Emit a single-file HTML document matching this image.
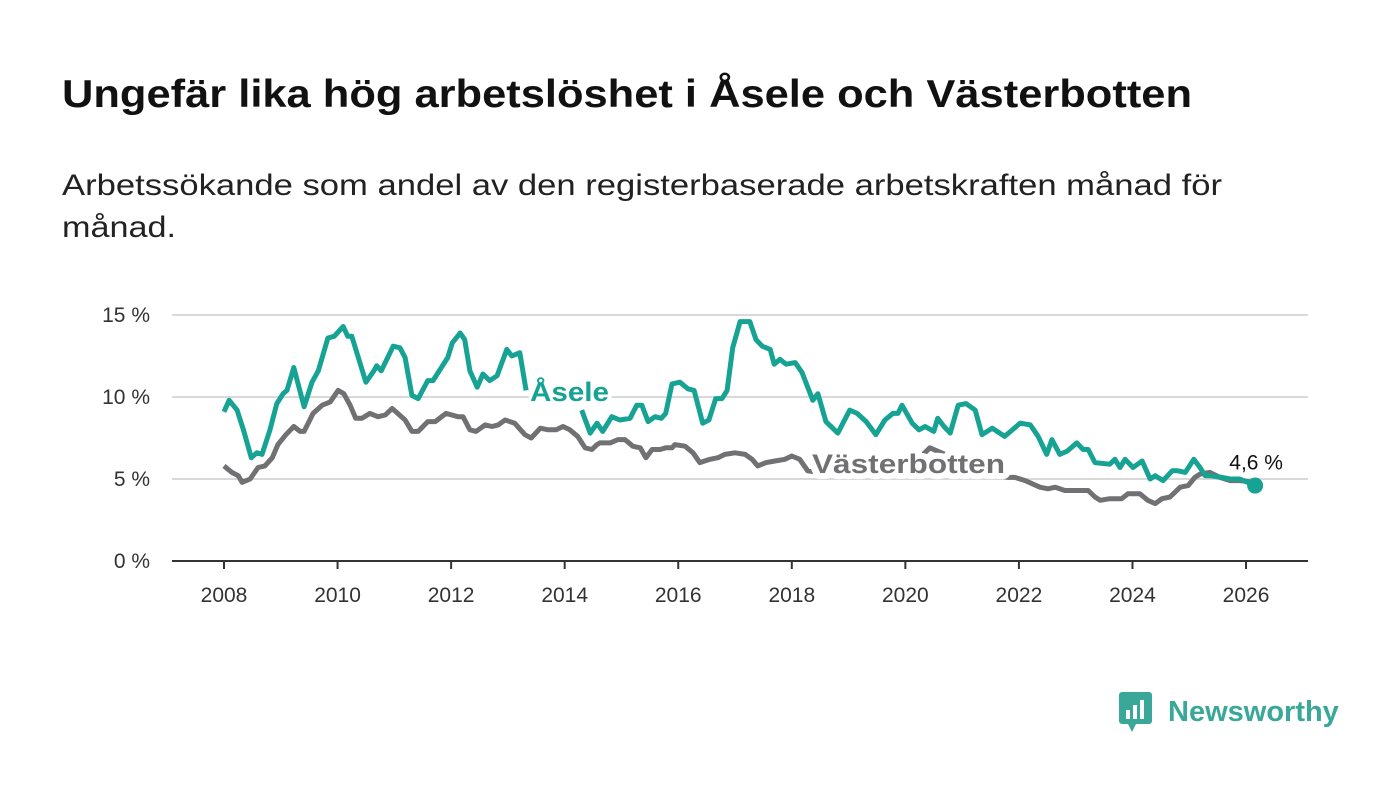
<!DOCTYPE html>
<html><head><meta charset="utf-8">
<style>
body{margin:0;background:#fff;width:1400px;height:794px;overflow:hidden;font-family:"Liberation Sans",sans-serif;}
svg{position:absolute;left:0;top:0}
</style></head><body>
<svg id="chart" width="1400" height="794">
<text x="62" y="107" font-size="39" font-weight="bold" fill="#111" textLength="1130" lengthAdjust="spacingAndGlyphs">Ungefär lika hög arbetslöshet i Åsele och Västerbotten</text>
<text x="62" y="195" font-size="30" fill="#222" textLength="1160" lengthAdjust="spacingAndGlyphs">Arbetssökande som andel av den registerbaserade arbetskraften månad för</text>
<text x="62" y="237" font-size="30" fill="#222" textLength="114" lengthAdjust="spacingAndGlyphs">månad.</text>
</svg>
<div style="position:absolute;left:1118px;top:690px;height:44px;display:flex;align-items:center">
<svg width="36" height="44" style="position:static"><rect x="1" y="2" width="33" height="32" rx="3" fill="#3aa899"/><path d="M10 34 L14 42 L18 34Z" fill="#3aa899"/><rect x="8" y="20" width="4" height="9" fill="#fff"/><rect x="15" y="15" width="4" height="14" fill="#fff"/><rect x="22" y="10" width="4" height="19" fill="#fff"/></svg>
<span style="font-size:29px;font-weight:bold;color:#3aa899;margin-left:14px">Newsworthy</span></div>
<script>
const yTicks=[0,5,10,15];
const xTicks=[2008,2010,2012,2014,2016,2018,2020,2022,2024,2026];
const aseleDates=[2008.00,2008.09,2008.23,2008.35,2008.48,2008.58,2008.67,2008.81,2008.93,2009.04,2009.11,2009.23,2009.41,2009.55,2009.66,2009.83,2009.94,2010.10,2010.18,2010.25,2010.50,2010.64,2010.69,2010.77,2010.98,2011.10,2011.19,2011.31,2011.42,2011.59,2011.68,2011.94,2012.02,2012.16,2012.24,2012.33,2012.46,2012.56,2012.68,2012.81,2012.98,2013.07,2013.21,2013.32,2014.30,2014.45,2014.57,2014.67,2014.83,2014.97,2015.15,2015.27,2015.36,2015.47,2015.59,2015.70,2015.78,2015.89,2016.03,2016.17,2016.28,2016.43,2016.54,2016.66,2016.77,2016.86,2016.96,2017.09,2017.26,2017.37,2017.48,2017.62,2017.69,2017.79,2017.90,2018.06,2018.18,2018.37,2018.46,2018.60,2018.81,2019.02,2019.15,2019.31,2019.48,2019.64,2019.78,2019.87,2019.94,2020.12,2020.24,2020.35,2020.50,2020.57,2020.68,2020.79,2020.93,2021.07,2021.23,2021.35,2021.53,2021.75,2022.02,2022.20,2022.34,2022.49,2022.58,2022.72,2022.85,2023.02,2023.13,2023.22,2023.34,2023.60,2023.69,2023.78,2023.87,2024.01,2024.17,2024.31,2024.40,2024.54,2024.70,2024.80,2024.93,2025.08,2025.19,2025.28,2025.36,2025.58,2025.72,2025.89,2026.16];
const aseleValues=[9.1,9.8,9.2,7.9,6.3,6.6,6.5,8.0,9.6,10.2,10.4,11.8,9.4,10.9,11.6,13.6,13.7,14.3,13.7,13.7,10.9,11.6,11.9,11.6,13.1,13.0,12.4,10.1,9.9,11.0,11.0,12.4,13.3,13.9,13.5,11.6,10.6,11.4,11.0,11.3,12.9,12.5,12.7,10.4,9.2,7.8,8.4,7.9,8.8,8.6,8.7,9.5,9.5,8.5,8.8,8.7,9.0,10.8,10.9,10.5,10.4,8.4,8.6,9.9,9.9,10.4,13.0,14.6,14.6,13.5,13.1,12.9,12.0,12.3,12.0,12.1,11.5,9.8,10.2,8.5,7.8,9.2,9.0,8.5,7.7,8.6,9.0,9.0,9.5,8.4,8.0,8.2,7.9,8.7,8.2,7.8,9.5,9.6,9.2,7.7,8.1,7.6,8.4,8.3,7.6,6.5,7.4,6.5,6.7,7.2,6.8,6.8,6.0,5.9,6.2,5.7,6.2,5.7,6.1,5.0,5.2,4.9,5.5,5.5,5.4,6.2,5.7,5.2,5.2,5.1,5.0,5.0,4.6];
const aseleGapAfter=2013.32;
const vbDates=[2008.00,2008.14,2008.25,2008.32,2008.46,2008.60,2008.72,2008.85,2008.95,2009.09,2009.23,2009.34,2009.41,2009.57,2009.73,2009.87,2010.01,2010.11,2010.22,2010.32,2010.43,2010.57,2010.71,2010.84,2010.96,2011.06,2011.19,2011.31,2011.42,2011.59,2011.72,2011.91,2012.12,2012.21,2012.33,2012.44,2012.60,2012.72,2012.83,2012.95,2013.12,2013.30,2013.41,2013.57,2013.71,2013.85,2013.97,2014.09,2014.23,2014.36,2014.48,2014.57,2014.62,2014.80,2014.94,2015.06,2015.20,2015.33,2015.43,2015.54,2015.68,2015.78,2015.89,2015.94,2016.12,2016.26,2016.38,2016.56,2016.70,2016.82,2017.00,2017.18,2017.30,2017.40,2017.55,2017.70,2017.88,2018.00,2018.14,2018.28,2018.67,2019.20,2019.73,2020.17,2020.43,2020.70,2021.14,2021.49,2021.81,2021.93,2022.11,2022.37,2022.51,2022.64,2022.81,2022.99,2023.22,2023.34,2023.43,2023.60,2023.81,2023.92,2024.13,2024.27,2024.40,2024.52,2024.66,2024.84,2024.98,2025.10,2025.19,2025.36,2025.54,2025.72,2025.89,2026.16];
const vbValues=[5.8,5.4,5.2,4.8,5.0,5.7,5.8,6.3,7.1,7.7,8.2,7.9,7.9,9.0,9.5,9.7,10.4,10.2,9.5,8.7,8.7,9.0,8.8,8.9,9.3,9.0,8.6,7.9,7.9,8.5,8.5,9.0,8.8,8.8,8.0,7.9,8.3,8.2,8.3,8.6,8.4,7.7,7.5,8.1,8.0,8.0,8.2,8.0,7.6,6.9,6.8,7.1,7.2,7.2,7.4,7.4,7.0,6.9,6.3,6.8,6.8,6.9,6.9,7.1,7.0,6.6,6.0,6.2,6.3,6.5,6.6,6.5,6.2,5.8,6.0,6.1,6.2,6.4,6.2,5.5,5.3,5.5,5.6,6.0,6.9,6.5,5.6,5.3,5.1,5.1,4.9,4.5,4.4,4.5,4.3,4.3,4.3,3.9,3.7,3.8,3.8,4.1,4.1,3.7,3.5,3.8,3.9,4.5,4.6,5.1,5.3,5.4,5.1,4.9,4.9,4.8];
const NS="http://www.w3.org/2000/svg";
const svg=document.getElementById('chart');
const X=y=>224+(y-2008)*56.78;
const Y=v=>561-v*16.4;
function mk(t,a,p){const e=document.createElementNS(NS,t);for(const k in a)e.setAttribute(k,a[k]);(p||svg).appendChild(e);return e;}
yTicks.forEach(t=>{
 if(t>0){const g=mk('line',{x1:172,x2:1308,y1:Y(t),y2:Y(t),stroke:'#d9d9d9','stroke-width':2});
 
 }
 const l=mk('text',{x:150,y:Y(t)+7,'text-anchor':'end','font-size':21,fill:'#333','font-family':'Liberation Sans'});l.textContent=t+' %';
 
 
});
const ax=mk('line',{x1:172,x2:1308,y1:561,y2:561,stroke:'#333','stroke-width':2});


xTicks.forEach(t=>{
 const tk=mk('line',{x1:X(t),x2:X(t),y1:561,y2:569,stroke:'#333','stroke-width':2});
 
 
 const l=mk('text',{x:X(t),y:602,'text-anchor':'middle','font-size':21,fill:'#333','font-family':'Liberation Sans'});l.textContent=t;
 
 
});
function pathD(d,v,gap){let s='';for(let i=0;i<d.length;i++){const m=(i===0||(gap&&d[i-1]<=gap&&d[i]>gap))?'M':'L';s+=m+X(d[i]).toFixed(1)+','+Y(v[i]).toFixed(1)+' ';}return s;}
const vb=mk('path',{d:pathD(vbDates,vbValues),fill:'none',stroke:'#717073','stroke-width':5,'stroke-linejoin':'round'});


const as=mk('path',{d:pathD(aseleDates,aseleValues,aseleGapAfter),fill:'none',stroke:'#16a394','stroke-width':5,'stroke-linejoin':'round'});


const n=aseleDates.length-1;
const dot=mk('circle',{cx:X(aseleDates[n]),cy:Y(aseleValues[n]),r:8,fill:'#16a394'});


const lv=mk('text',{x:X(aseleDates[n])+1,y:Y(aseleValues[n])-16,'text-anchor':'middle','font-size':21,fill:'#111','font-family':'Liberation Sans',stroke:'#fff','stroke-width':4,'paint-order':'stroke'});
lv.textContent=aseleValues[n].toString().replace('.',',')+' %';


const la=mk('text',{x:530,y:401,'font-size':27,'font-weight':'bold',fill:'#16a394','font-family':'Liberation Sans',stroke:'#fff','stroke-width':6,'paint-order':'stroke',textLength:79,lengthAdjust:'spacingAndGlyphs'});la.textContent='Åsele';


const lb=mk('text',{x:812,y:473,'font-size':27,'font-weight':'bold',fill:'#717073','font-family':'Liberation Sans',stroke:'#fff','stroke-width':12,'paint-order':'stroke','stroke-linejoin':'round',textLength:193,lengthAdjust:'spacingAndGlyphs'});lb.textContent='Västerbotten';


</script>
</body></html>
